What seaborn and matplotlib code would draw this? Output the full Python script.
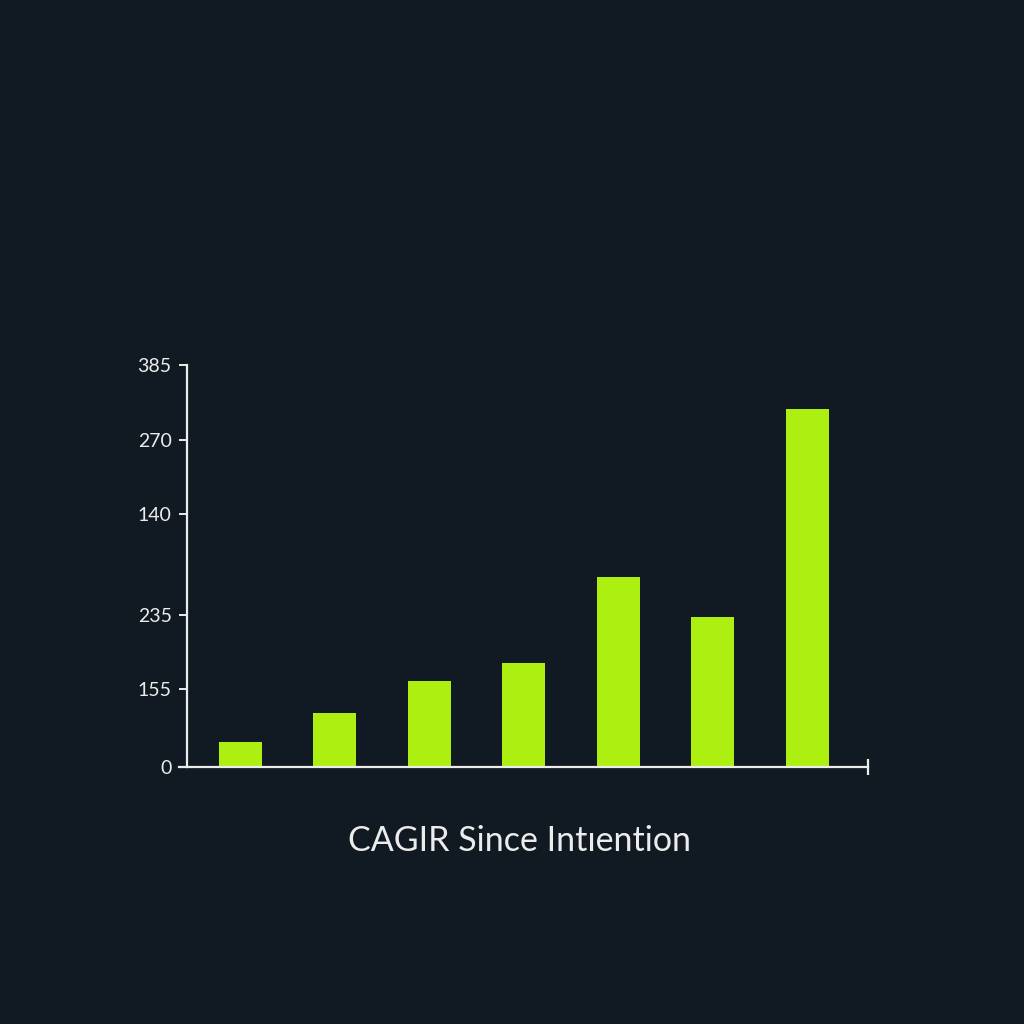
import numpy as np
import pandas as pd
import matplotlib
matplotlib.use("Agg")
import matplotlib.pyplot as plt
import seaborn as sns

# Chart data
categories = ["A", "B", "C", "D", "E", "F", "G"]
values = [24, 52, 82, 100, 182, 144, 343]
tick_positions = [0, 75, 146, 242, 313, 385]
tick_labels = ["0", "155", "235", "140", "270", "385"]
x_label = "CAGIR Since Int\u0131ention"

bg = "#111a22"
bar_color = "#acef10"
fg = "#ececec"

df = pd.DataFrame({"category": categories, "value": values})

sns.set_theme(style="dark")
plt.rcParams["font.family"] = ["Lato", "DejaVu Sans"]

fig = plt.figure(figsize=(10.24, 10.24), dpi=100, facecolor=bg)
ax = fig.add_axes([179 / 1024, 1 - 767 / 1024, 689 / 1024, 402 / 1024])
ax.set_facecolor(bg)

sns.barplot(data=df, x="category", y="value", color=bar_color,
            saturation=1, width=0.4546, linewidth=0, ax=ax)

ax.set_xlim(-0.645, 6.64)
ax.set_ylim(0, 385)

# Spines
for s in ["top", "right"]:
    ax.spines[s].set_visible(False)
ax.spines["left"].set_position(("axes", 8 / 689))
ax.spines["left"].set_color(fg)
ax.spines["left"].set_linewidth(1.6)
ax.spines["bottom"].set_color(fg)
ax.spines["bottom"].set_linewidth(1.6)

# Y ticks
ax.set_yticks(tick_positions)
ax.set_yticklabels(tick_labels)
ax.tick_params(axis="y", colors=fg, length=6, width=1.4, labelsize=14,
               pad=5, left=True)
ax.grid(False)

# X axis: no labels, just end cap
ax.set_xticks([])
ax.set_xticks([6.64], minor=True)
ax.tick_params(axis="x", which="minor", direction="inout", length=12,
               width=1.6, colors=fg, bottom=True)
ax.set_xlabel("")
ax.set_ylabel("")

fig.text(520 / 1024, 1 - 841 / 1024, x_label, color=fg, fontsize=24.5,
         ha="center", va="center")

fig.savefig("out.png", dpi=100, facecolor=bg)
